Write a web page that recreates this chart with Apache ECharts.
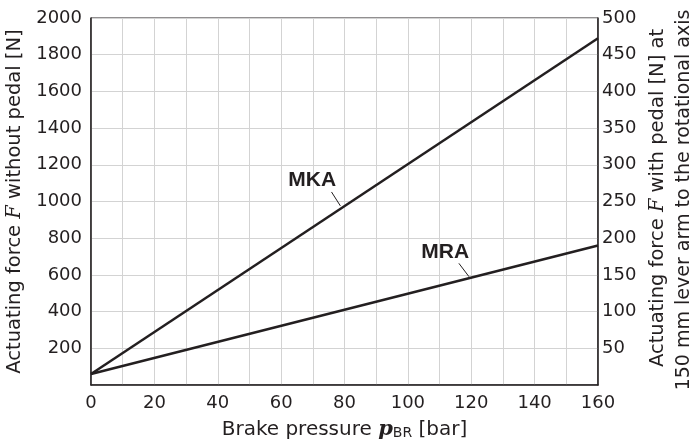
<!DOCTYPE html>
<html>
<head>
<meta charset="utf-8">
<script src="https://cdn.jsdelivr.net/npm/echarts@6/dist/echarts.min.js"></script>
<style>
  html, body { margin: 0; padding: 0; background: #fff; }
  #chart { width: 695px; height: 442px; }
</style>
</head>
<body>
<div id="chart"></div>
<script>
// Datos
const pressure = [0, 160];           // bar
const mkaForce = [60, 1890];         // N
const mraForce = [60, 760];          // N

const xTicks = [0, 20, 40, 60, 80, 100, 120, 140, 160];
const leftTicks = [200, 400, 600, 800, 1000, 1200, 1400, 1600, 1800, 2000];
const rightTicks = [50, 100, 150, 200, 250, 300, 350, 400, 450, 500];

// Etiquetas de las curvas: [x, y] del texto y del trazo guía
const mkaLabelAt = [69.8, 1117];
const mkaLeader = [[75.9, 1052], [78.7, 976]];
const mraLabelAt = [111.8, 726];
const mraLeader = [[116.1, 663], [119.3, 590]];

const ink = '#231f20';
const gridGray = '#d3d3d3';
const font = 'DejaVu Sans';
const titleSize = 19.5;

function pairs(xs, ys) {
    return xs.map((x, i) => [x, ys[i]]);
}

function curve(name, values, labelAt, leader) {
    return {
        name: name,
        type: 'line',
        data: pairs(pressure, values),
        showSymbol: false,
        lineStyle: { color: ink, width: 2.5 },
        animation: false,
        silent: true,
        markLine: {
            silent: true,
            symbol: 'none',
            label: { show: false },
            lineStyle: { color: ink, width: 1, type: 'solid' },
            data: [[{ coord: leader[0] }, { coord: leader[1] }]]
        },
        markPoint: {
            silent: true,
            symbol: 'circle',
            symbolSize: 0,
            label: {
                show: true,
                position: 'inside',
                formatter: name,
                color: ink,
                fontFamily: 'Liberation Sans',
                fontWeight: 'bold',
                fontSize: 21
            },
            data: [{ coord: labelAt }]
        }
    };
}

const chart = echarts.init(document.getElementById('chart'), null, { renderer: 'canvas' });

chart.setOption({
    backgroundColor: '#ffffff',
    animation: false,
    grid: {
        left: 91, right: 97, top: 18, bottom: 57,
        outerBoundsMode: 'none',
        containLabel: false,
        show: true, borderColor: ink, borderWidth: 1
    },
    xAxis: {
        type: 'value',
        min: 0, max: 160, interval: 10,
        axisLine: { show: true, lineStyle: { color: ink, width: 1.5 } },
        axisTick: { show: false },
        splitLine: { show: true, lineStyle: { color: gridGray, width: 1 } },
        axisLabel: {
            color: ink, fontFamily: font, fontSize: 18, margin: 9,
            formatter: v => xTicks.includes(v) ? String(v) : ''
        },
        name: '{a|Brake pressure }{p|p}{s|BR}{a| [bar]}',
        nameLocation: 'middle',
        nameGap: 34,
        nameTextStyle: {
            rich: {
                a: { fontFamily: font, fontSize: 20, color: ink },
                p: { fontFamily: 'DejaVu Serif', fontStyle: 'italic', fontWeight: 'bold', fontSize: 21, color: ink },
                s: { fontFamily: font, fontSize: 14, color: ink, padding: [7, 0, 0, 0] }
            }
        }
    },
    yAxis: [{
        type: 'value',
        min: 0, max: 2000, interval: 200,
        axisLine: { show: true, lineStyle: { color: ink, width: 1.5 } },
        axisTick: { show: false },
        splitLine: { show: true, lineStyle: { color: gridGray, width: 1 } },
        axisLabel: {
            color: ink, fontFamily: font, fontSize: 18, margin: 9,
            formatter: v => leftTicks.includes(v) ? String(v) : ''
        },
        name: '{a|Actuating force }{f|F}{a| without pedal [N]}',
        nameLocation: 'middle',
        nameRotate: 90,
        nameGap: 61,
        nameTextStyle: {
            rich: {
                a: { fontFamily: font, fontSize: titleSize, color: ink },
                f: { fontFamily: 'DejaVu Serif', fontStyle: 'italic', fontSize: titleSize, color: ink }
            }
        }
    }, {
        type: 'value',
        min: 0, max: 500, interval: 50,
        position: 'right',
        axisLine: { show: true, lineStyle: { color: ink, width: 1.5 } },
        axisTick: { show: false },
        splitLine: { show: false },
        axisLabel: {
            color: ink, fontFamily: font, fontSize: 18, margin: 4,
            formatter: v => rightTicks.includes(v) ? String(v) : ''
        }
    }],
    graphic: [{
        type: 'text',
        x: 658, y: 198,
        rotation: Math.PI / 2,
        silent: true,
        style: {
            text: '{a|Actuating force }{f|F}{a| with pedal [N] at}',
            align: 'center',
            verticalAlign: 'middle',
            rich: {
                a: { fontFamily: font, fontSize: titleSize, fill: ink },
                f: { fontFamily: 'DejaVu Serif', fontStyle: 'italic', fontSize: titleSize, fill: ink }
            }
        }
    }, {
        type: 'text',
        x: 684, y: 200,
        rotation: Math.PI / 2,
        silent: true,
        style: {
            text: '150 mm lever arm to the rotational axis',
            align: 'center',
            verticalAlign: 'middle',
            fontFamily: font, fontSize: 19, fill: ink
        }
    }],
    series: [
        curve('MKA', mkaForce, mkaLabelAt, mkaLeader),
        curve('MRA', mraForce, mraLabelAt, mraLeader)
    ]
});

window.addEventListener('resize', () => chart.resize());
</script>
</body>
</html>
